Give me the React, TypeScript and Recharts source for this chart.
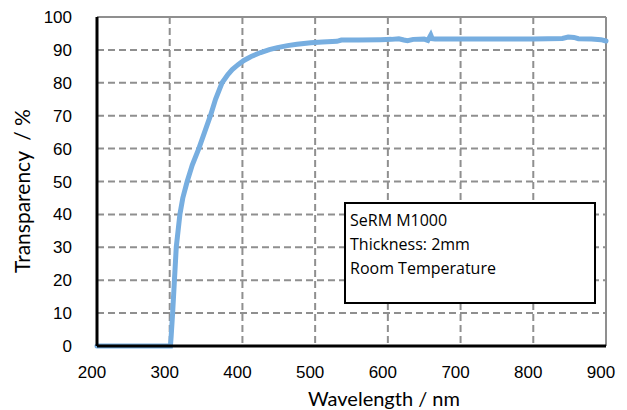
import React from 'react';
import { LineChart, Line, XAxis, YAxis, CartesianGrid, ReferenceLine } from 'recharts';

// --- Data ---
const wavelengths = [
  200, 250, 300, 301, 302, 304, 306.5, 309, 314, 318, 324, 331, 340, 348, 356, 363, 372, 380, 386,
  394, 402, 412, 425, 437, 448, 462, 475, 494, 510, 530, 536, 560, 590, 605, 615, 622, 627, 635,
  650, 655, 659, 661, 665, 700, 750, 800, 840, 848, 856, 862, 880, 893, 900,
];
const transparency = [
  0, 0, 0, 0, 3, 10, 20, 30, 40, 45, 50, 55, 60, 65, 70, 75, 80, 82.5, 84,
  85.5, 86.8, 88, 89.2, 90.1, 90.7, 91.3, 91.7, 92.2, 92.4, 92.6, 93.0, 93.0, 93.1, 93.2, 93.4, 93.0, 92.8, 93.2,
  93.3, 92.9, 94.5, 93.4, 93.3, 93.3, 93.3, 93.3, 93.5, 93.9, 93.8, 93.4, 93.3, 93.1, 92.7,
];
const xTicks = [200, 300, 400, 500, 600, 700, 800, 900];
const yTicks = [0, 10, 20, 30, 40, 50, 60, 70, 80, 90, 100];
const infoLines = ['SeRM M1000', 'Thickness: 2mm', 'Room Temperature'];

const spectrum = wavelengths.map((w, i) => ({ wl: w, t: transparency[i] }));

const TICK_FONT = '"Liberation Sans", Arial, sans-serif';
const TITLE_FONT = 'Lato, "Liberation Sans", sans-serif';

const XTick = ({ x, y, payload }: any) => (
  <text x={x - 5} y={y + 32} textAnchor="middle" fontSize={17} fontFamily={TICK_FONT} fill="#000">
    {payload.value}
  </text>
);

const YTick = ({ x, y, payload }: any) => (
  <text x={x - 25} y={y + 6} textAnchor="end" fontSize={17} fontFamily={TICK_FONT} fill="#000">
    {payload.value}
  </text>
);

export default function App() {
  return (
    <div style={{ position: 'absolute', left: 0, top: 0, width: 627, height: 410, background: '#fff' }}>
      <LineChart width={627} height={410} data={spectrum} margin={{ top: 17, right: 21, bottom: 34, left: 0 }}>
        <CartesianGrid stroke="#8f8f8f" strokeWidth={2} strokeDasharray="7 4" />
        <XAxis
          dataKey="wl"
          type="number"
          domain={[200, 900]}
          ticks={xTicks}
          height={30}
          tick={<XTick />}
          tickLine={false}
          tickSize={0}
          tickMargin={0}
          axisLine={{ stroke: '#000', strokeWidth: 3 }}
        />
        <YAxis
          type="number"
          domain={[0, 100]}
          ticks={yTicks}
          width={97}
          tick={<YTick />}
          tickLine={false}
          tickSize={0}
          tickMargin={0}
          axisLine={{ stroke: '#000', strokeWidth: 3 }}
        />
        <ReferenceLine y={100} stroke="#8f8f8f" strokeWidth={2} />
        <ReferenceLine x={900} stroke="#8f8f8f" strokeWidth={2} />
        <Line
          dataKey="t"
          type="linear"
          stroke="#77aee0"
          strokeWidth={5}
          strokeLinecap="round"
          dot={false}
          isAnimationActive={false}
        />
      </LineChart>

      {/* axis titles */}
      <div
        style={{
          position: 'absolute', left: 308, top: 387, fontFamily: TITLE_FONT, fontSize: 20,
          color: '#000', whiteSpace: 'pre', lineHeight: '22px',
        }}
      >
        Wavelength / nm
      </div>
      <div
        style={{
          position: 'absolute', left: 22, top: 191, transform: 'translate(-50%, -50%) rotate(-90deg)',
          fontFamily: TITLE_FONT, fontSize: 21, color: '#000', whiteSpace: 'pre', lineHeight: '22px',
        }}
      >
        {'Transparency  / %'}
      </div>

      {/* annotation box */}
      <div
        style={{
          position: 'absolute', left: 344, top: 202, width: 244, height: 94, border: '2px solid #000',
          background: '#fff', fontFamily: '"Open Sans", sans-serif', fontSize: 16, color: '#000',
          padding: '4px 0 0 4px', boxSizing: 'content-box', lineHeight: '24px',
        }}
      >
        {infoLines.map((l) => (
          <div key={l}>{l}</div>
        ))}
      </div>
    </div>
  );
}
